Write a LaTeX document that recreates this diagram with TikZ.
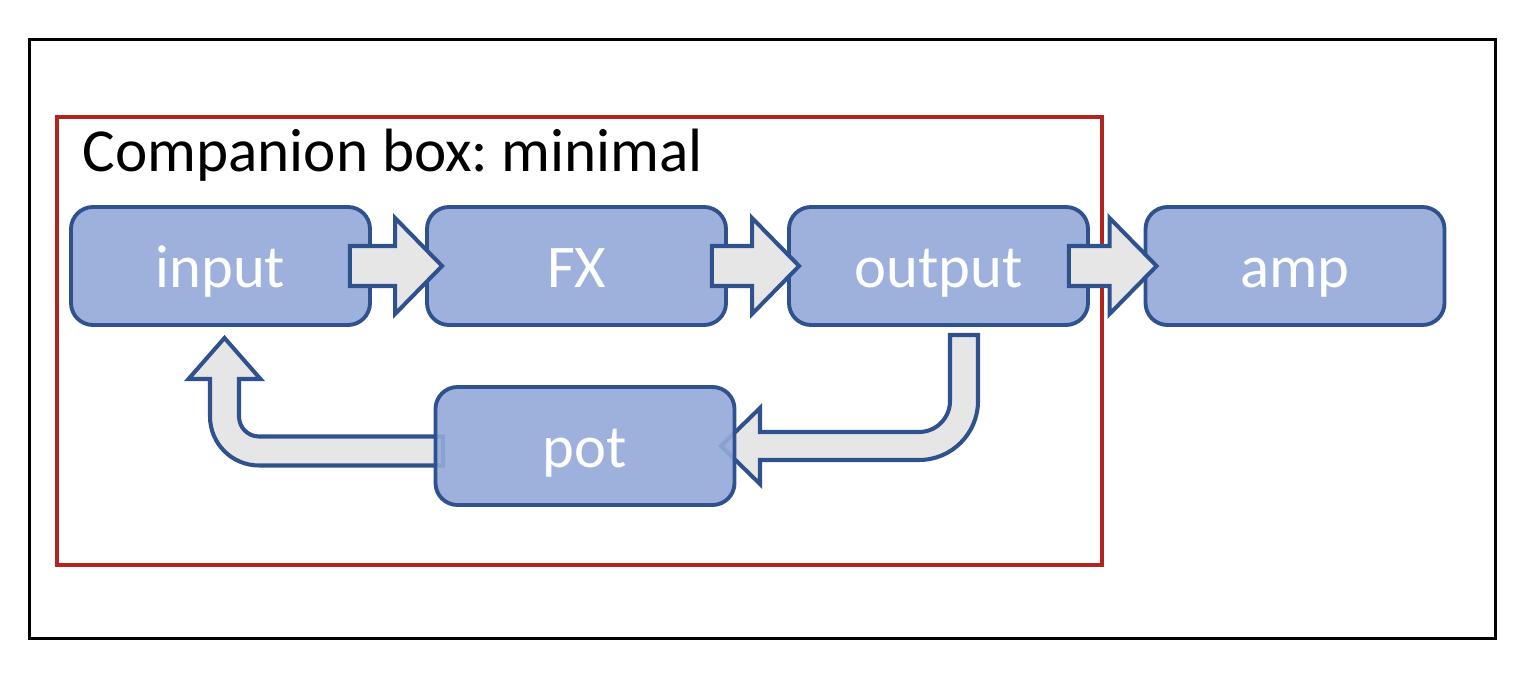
\documentclass[tikz,border=0pt]{standalone}
\usepackage{fontspec}
\setmainfont{Carlito}
\usetikzlibrary{calc}
\frenchspacing

\definecolor{boxfill}{HTML}{93A9D9}
\definecolor{boxline}{HTML}{2F528F}
\definecolor{arrowfill}{HTML}{E7E6E6}
\definecolor{framered}{HTML}{B3241F}

\tikzset{
	stage/.style={draw=boxline, fill=boxfill, fill opacity=0.9, text opacity=1, line width=2.2pt,
		rounded corners=0.44cm, minimum width=5.98cm, minimum height=2.36cm,
		text height=1.1cm, text depth=0.22cm,
		text=white, font=\fontsize{34.5}{40}\selectfont},
	blockarrow/.style={draw=boxline, fill=arrowfill, line width=2.3pt}
}

\begin{document}
\begin{tikzpicture}
	\useasboundingbox (0,0) rectangle (30.66,-13.58);
	\draw[line width=1.7pt] (0.59,-0.79) rectangle (29.91,-12.77);

	\node[anchor=base west, font=\fontsize{34.8}{40}\selectfont] (title) at (1.53,-3.44) {Companion box: minimal};

	% feedback path, drawn under the boxes
	\coordinate (s) at (19.28,-6.70);
	\coordinate (t) at (14.42,-8.92);
	\coordinate (c) at (s |- t);
	\draw[blockarrow] ($(s)+(-0.28,0)$) -- ($(s)+(0.28,0)$) -- ($(c)+(0.28,0.90)$)
		arc[start angle=0, end angle=-90, radius=1.18] -- ($(t)+(0.78,-0.28)$)
		-- ($(t)+(0.78,-0.76)$) -- (t) -- ($(t)+(0.78,0.76)$) -- ($(t)+(0.78,0.28)$)
		-- ($(c)+(-0.90,0.28)$) arc[start angle=-90, end angle=0, radius=0.62] -- cycle;

	\coordinate (a) at (8.86,-9.02);
	\coordinate (b) at (4.49,-6.76);
	\coordinate (d) at (b |- a);
	\draw[blockarrow] ($(a)+(0,0.29)$) -- ($(d)+(0.69,0.29)$)
		arc[start angle=-90, end angle=-180, radius=0.40] -- ($(b)+(0.29,-0.82)$)
		-- ($(b)+(0.72,-0.82)$) -- (b) -- ($(b)+(-0.72,-0.82)$) -- ($(b)+(-0.29,-0.82)$)
		-- ($(d)+(-0.29,0.69)$) arc[start angle=180, end angle=270, radius=0.98]
		-- ($(a)+(0,-0.29)$) -- cycle;

	\node[stage] (input) at (4.41,-5.32) {input};
	\node[stage] (fx) at (11.53,-5.32) {FX};
	\node[stage] (output) at (18.77,-5.32) {output};
	\node[stage] (amp) at (25.90,-5.32) {amp};
	\node[stage] (pot) at (11.70,-8.92) {pot};

	\draw[framered, line width=2.6pt] (1.14,-2.34) rectangle (22.04,-11.30);

	% signal chain
	\coordinate (t1) at ($(input.east)+(-0.44,0)$);
	\coordinate (p1) at ($(fx.west)+(0.34,0)$);
	\coordinate (t2) at ($(fx.east)+(-0.32,0)$);
	\coordinate (p2) at ($(output.west)+(0.24,0)$);
	\coordinate (t3) at ($(output.east)+(-0.42,0)$);
	\coordinate (p3) at ($(amp.west)+(0.26,0)$);
	\foreach \from/\to in {t1/p1, t2/p2, t3/p3}
		\draw[blockarrow] ($(\from)+(0,0.40)$) -- ($(\to)+(-0.94,0.40)$) -- ($(\to)+(-0.94,0.96)$)
			-- (\to) -- ($(\to)+(-0.94,-0.96)$) -- ($(\to)+(-0.94,-0.40)$) -- ($(\from)+(0,-0.40)$) -- cycle;
\end{tikzpicture}
\end{document}
